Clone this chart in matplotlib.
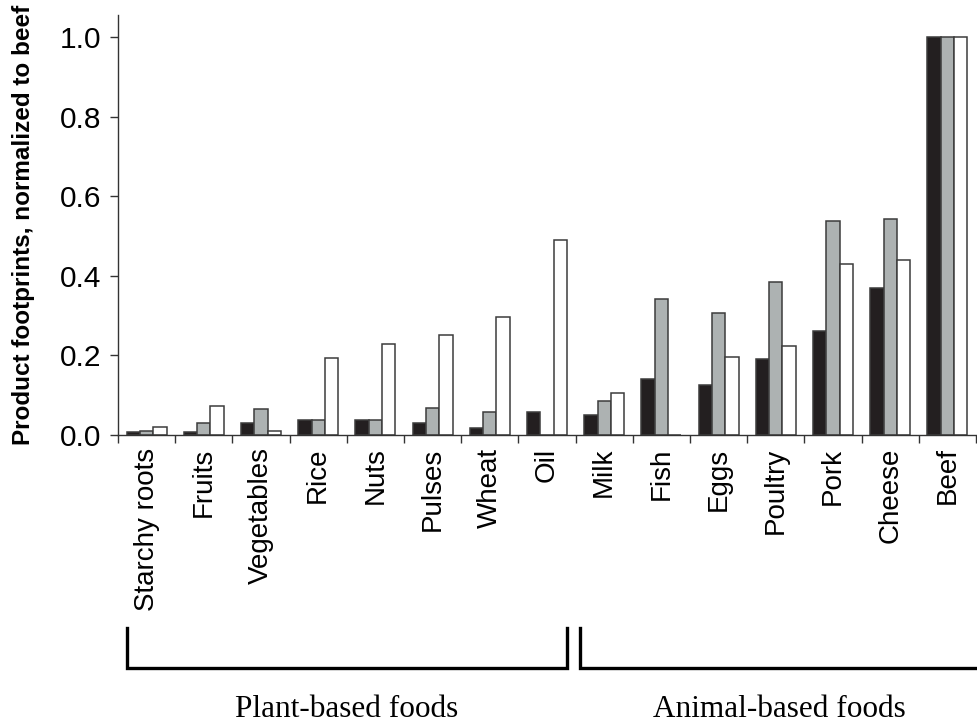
import numpy as np
import matplotlib
matplotlib.use("Agg")
import matplotlib.pyplot as plt
from matplotlib.transforms import blended_transform_factory

# --- Data -----------------------------------------------------------------

foods = ["Starchy roots", "Fruits", "Vegetables", "Rice", "Nuts", "Pulses",
         "Wheat", "Oil", "Milk", "Fish", "Eggs", "Poultry", "Pork",
         "Cheese", "Beef"]
series_black = [0.008, 0.008, 0.030, 0.038, 0.038, 0.030, 0.018, 0.058,
                0.050, 0.140, 0.126, 0.190, 0.261, 0.370, 1.0]
series_grey = [0.010, 0.030, 0.065, 0.038, 0.038, 0.067, 0.057, 0.0,
               0.086, 0.342, 0.307, 0.384, 0.538, 0.543, 1.0]
series_white = [0.020, 0.073, 0.010, 0.193, 0.228, 0.250, 0.296, 0.490,
                0.105, 0.0, 0.197, 0.224, 0.430, 0.439, 1.0]
groups = ["Plant-based foods", "Animal-based foods"]
n_plant = 8

# --------------------------------------------------------------------------

plt.rcParams["font.family"] = ["Liberation Sans", "DejaVu Sans"]

fig = plt.figure(figsize=(9.77, 7.23), dpi=100)
ax = fig.add_axes([118 / 977, 288 / 723, 858 / 977, 420 / 723])

x = np.arange(len(foods))
w = 0.233
edge = "#3c3c3c"
for off, vals, col in [(-w, series_black, "#231f20"),
                       (0, series_grey, "#adb2b2"),
                       (w, series_white, "white")]:
    ax.bar(x + off, vals, width=w, color=col, edgecolor=edge, linewidth=1.1)

ax.set_xlim(-0.5, len(foods) - 0.5)
ax.set_ylim(0, 1.055)
ax.set_yticks(np.arange(0, 1.01, 0.2))
ax.set_yticklabels([f"{v:.1f}" for v in np.arange(0, 1.01, 0.2)])
ax.set_xticks(x)
ax.set_xticklabels(foods, rotation=90)
ax.set_xticks(np.arange(-0.5, len(foods)), minor=True)
ax.tick_params(axis="x", which="major", length=0, pad=9, labelsize=20)
ax.tick_params(axis="x", which="minor", length=6, width=1, color="#333")
ax.tick_params(axis="y", length=6, width=1, color="#333", labelsize=21.5,
               pad=6)
for s in ["top", "right"]:
    ax.spines[s].set_visible(False)
for s in ["left", "bottom"]:
    ax.spines[s].set_color("#333")
    ax.spines[s].set_linewidth(1)

ax.set_ylabel("Product footprints, normalized to beef", fontsize=17.5,
              fontweight="bold", labelpad=18)

# group brackets below the category labels
tr = blended_transform_factory(ax.transData, ax.transAxes)
y_top, y_bot, y_txt = -0.46, -0.555, -0.653
spans = [(-0.34, n_plant - 0.65), (n_plant - 0.42, len(foods) - 0.45)]
for (x0, x1), name in zip(spans, groups):
    ax.plot([x0, x0, x1, x1], [y_top, y_bot, y_bot, y_top], color="black",
            lw=2.4, transform=tr, clip_on=False, solid_joinstyle="miter")
    ax.text((x0 + x1) / 2, y_txt, name, transform=tr, ha="center",
            va="center", fontsize=22.5, family="Liberation Serif")

fig.savefig("out.png", dpi=100)
